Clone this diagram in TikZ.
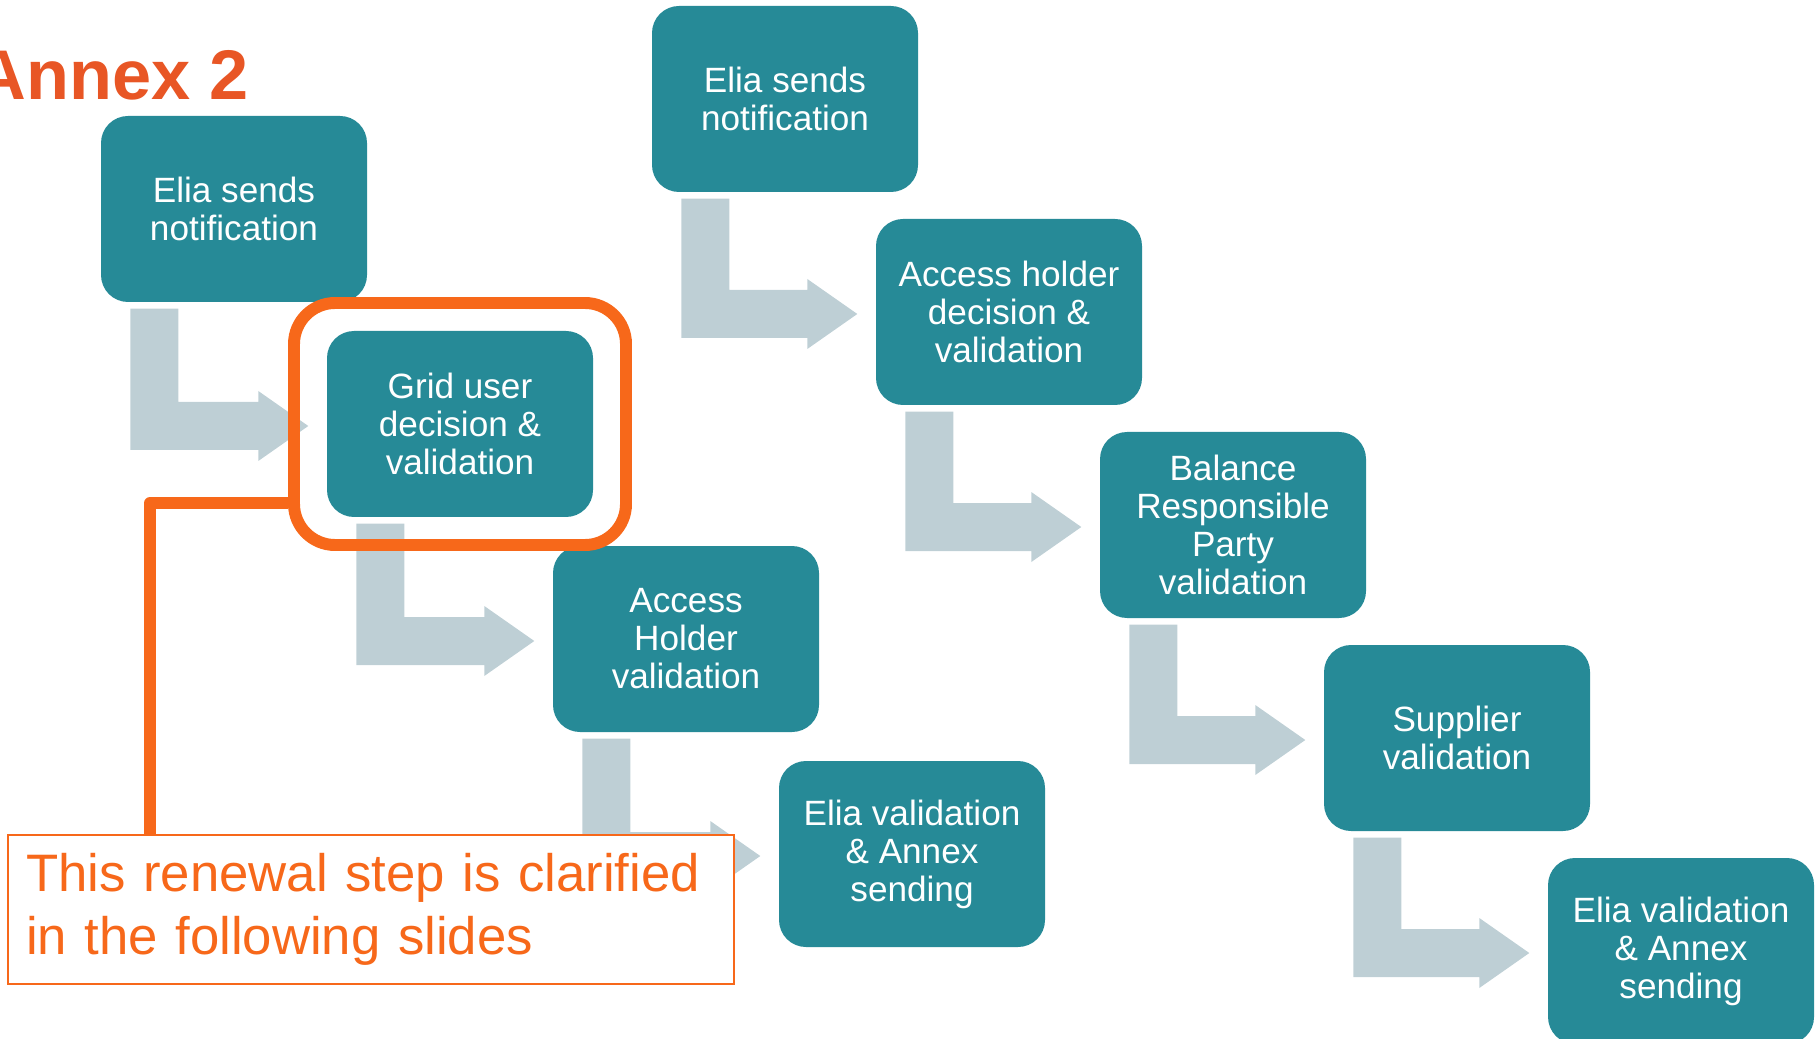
\documentclass[tikz,border=0pt]{standalone}
\usepackage{fontspec}
\setmainfont{Liberation Sans}
\usepackage{xcolor}
\usetikzlibrary{calc}

\definecolor{eliateal}{RGB}{38,138,151}
\definecolor{arrowgrey}{RGB}{190,207,213}
\definecolor{titleorange}{RGB}{232,86,37}
\definecolor{markorange}{RGB}{247,104,26}

% bent block arrow from the foot of one step to the side of the next
\newcommand{\bentarrow}[2]{%
    \fill[bent] let \p1=($(#1.south west)+(30,6)$), \p2=($(#2.west)+(-18,2)$) in
        (\x1,\y1) -- (\x1+4.8mm,\y1) -- (\x1+4.8mm,\y2+2.4mm) -- (\x2-5mm,\y2+2.4mm)
        -- (\x2-5mm,\y2+3.5mm) -- (\x2,\y2) -- (\x2-5mm,\y2-3.5mm)
        -- (\x2-5mm,\y2-2.4mm) -- (\x1,\y2-2.4mm) -- cycle;}

\begin{document}
\begin{tikzpicture}[
                x = 0.1mm, y = -0.1mm, % one unit per pixel, y going down
                font = \fontsize{10}{10.8}\selectfont
        ]

        \tikzstyle{stepbox}=[
            rectangle,
            rounded corners = 2.7mm,
            fill = eliateal,
            text = white,
            minimum width = 26.6mm,
            minimum height = 18.6mm,
            inner sep = 0pt,
            align = center
        ]
        \tikzstyle{bent}=[fill = arrowgrey]
        \tikzstyle{note}=[
            draw = markorange,
            fill = white,
            line width = 0.6pt,
            text = markorange,
            font = \fontsize{15}{18}\selectfont,
            minimum width = 72.6mm,
            minimum height = 14.9mm,
            text width = 69mm,
            inner xsep = 1.8mm,
            align = left
        ]

        \useasboundingbox (0,0) rectangle (1818,1039);

        \node[anchor=base west, inner sep=0pt, text=titleorange,
              font=\bfseries\fontsize{20}{24}\selectfont] (title) at (-25,100) {Annex 2};

        \node[stepbox] (B1) at (234,209) {Elia sends\\notification};
        \node[stepbox] (B2) at ($(B1)+(226,215)$) {Grid user\\decision \&\\validation};
        \node[stepbox] (B3) at ($(B2)+(226,215)$) {Access\\Holder\\validation};
        \node[stepbox] (B4) at ($(B3)+(226,215)$) {Elia validation\\\& Annex\\sending};

        \node[stepbox] (B5) at (785,99) {Elia sends\\notification};
        \node[stepbox] (B6) at ($(B5)+(224,213)$) {Access holder\\decision \&\\validation};
        \node[stepbox] (B7) at ($(B6)+(224,213)$) {Balance\\Responsible\\Party\\validation};
        \node[stepbox] (B8) at ($(B7)+(224,213)$) {Supplier\\validation};
        \node[stepbox] (B9) at ($(B8)+(224,213)$) {Elia validation\\\& Annex\\sending};

        \bentarrow{B1}{B2};
        \bentarrow{B2}{B3};
        \bentarrow{B3}{B4};
        \bentarrow{B5}{B6};
        \bentarrow{B6}{B7};
        \bentarrow{B7}{B8};
        \bentarrow{B8}{B9};

        % highlight of the renewal step and its callout
        \node[draw=markorange, line width=3.4pt, rounded corners=4.1mm,
              minimum width=33.2mm, minimum height=24.2mm] (hl) at (B2) {};
        \node[note, anchor=north west] (note) at (7,834)
            {This renewal step is clarified\\in the following slides};
        \coordinate (elbow) at (150,503);
        \draw[markorange, line width=3.4pt, line join=round]
            (hl.west |- elbow) -- (elbow) -- (note.north -| elbow);

\end{tikzpicture}
\end{document}
